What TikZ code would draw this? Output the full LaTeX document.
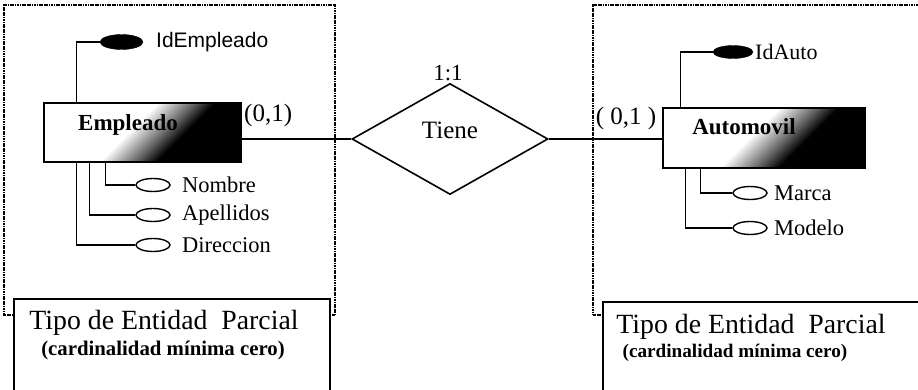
\documentclass[tikz,border=0pt]{standalone}
\usepackage{fontspec}
\setmainfont{Liberation Serif}
\setsansfont{Liberation Sans}
\usetikzlibrary{shapes.geometric}
\pgfdeclarehorizontalshading{entgrad}{100bp}{color(0bp)=(white); color(25bp)=(white); color(46bp)=(white); color(56bp)=(black!60); color(62bp)=(black); color(100bp)=(black)}
\begin{document}
\begin{tikzpicture}[x=1pt,y=-1pt,
  dotbox/.style={dash pattern=on 1.2pt off 0.5pt, line width=1.2pt, black},
  solidbox/.style={line width=1.8pt},
  conn/.style={line width=1.5pt},
  entity/.style={draw, line width=1.2pt, shading=entgrad, shading angle=-45, inner sep=0pt},
  keyattr/.style={ellipse, fill=black, draw, inner sep=0pt},
  attr/.style={ellipse, draw, line width=1.4pt, inner sep=0pt, minimum width=34pt, minimum height=13pt},
  rel/.style={diamond, draw, line width=1.6pt, inner sep=0pt, minimum width=196pt, minimum height=111pt},
  lbl/.style={inner sep=0pt, anchor=west},
  serlbl/.style={lbl, font=\fontsize{22.5}{22.5}\selectfont},
  sanlbl/.style={lbl, font=\sffamily\fontsize{21}{21}\selectfont},
  enttext/.style={inner sep=0pt, font=\bfseries\fontsize{23}{23}\selectfont},
  card/.style={inner sep=0pt, font=\fontsize{25}{25}\selectfont}]
\useasboundingbox (0,0) rectangle (918,389);
% frames
\draw[dotbox] (13,315) -- (4,315) -- (4,5) -- (335,5) -- (335,315) -- (330,315);
\draw[dotbox] (603,315) -- (593,315) -- (593,5) -- (918,5);
\draw[solidbox] (14,395) -- (14,299) -- (330,299) -- (330,395);
\draw[solidbox] (603,395) -- (603,302) -- (920,302);
% entities
\node[entity, minimum width=197pt, minimum height=59pt] (emp) at (142.5,132.5) {};
\node[enttext] (empt) at (128,125) {Empleado};
\node[entity, minimum width=202pt, minimum height=60pt] (aut) at (764,138) {};
\node[enttext] (autt) at (744,127) {Automovil};
% relationship
\node[rel] (rel) at (450,139) {};
\node[inner sep=0pt, font=\fontsize{25}{25}\selectfont] (relt) at (450,130) {Tiene};
\node[card, font=\fontsize{23}{23}\selectfont] (c11) at (448,73) {1:1};
\node[card, anchor=west] (c1) at (244,115) {(0,1)};
\node[card] (c2) at (626,118) {( 0,1 )};
\draw[conn] (emp.south east |- rel.west) -- (rel.west);
\draw[conn] (rel.east) -- (aut.west |- rel.east);
% employee attributes
\node[keyattr, minimum width=43pt, minimum height=15pt] (kemp) at (121.5,42) {};
\node[sanlbl] (lkemp) at (156,42) {IdEmpleado};
\draw[conn] (kemp.west) -| ([xshift=33pt]emp.north west);
\node[attr] (anom) at (153,185) {};
\node[serlbl] (lnom) at (182,185) {Nombre};
\draw[conn] (anom.west) -| ([xshift=62pt]emp.south west);
\node[attr] (aape) at (153,215) {};
\node[serlbl] (lape) at (182,215) {Apellidos};
\draw[conn] (aape.west) -| ([xshift=46pt]emp.south west);
\node[attr] (adir) at (153,245) {};
\node[serlbl] (ldir) at (182,245) {Direccion};
\draw[conn] (adir.west) -| ([xshift=33pt]emp.south west);
% auto attributes
\node[keyattr, minimum width=40pt, minimum height=13pt] (kaut) at (733,52) {};
\node[serlbl, font=\fontsize{22}{22}\selectfont] (lkaut) at (755,52) {IdAuto};
\draw[conn] (kaut.west) -| ([xshift=18pt]aut.north west);
\node[attr] (amar) at (750,193) {};
\node[serlbl] (lmar) at (774,193) {Marca};
\draw[conn] (amar.west) -| ([xshift=38pt]aut.south west);
\node[attr] (amod) at (750,228) {};
\node[serlbl] (lmod) at (774,228) {Modelo};
\draw[conn] (amod.west) -| ([xshift=23pt]aut.south west);
% captions
\node[inner sep=0pt, font=\fontsize{27.8}{27.8}\selectfont] (t1) at (164,323) {Tipo de Entidad\ \ Parcial};
\node[inner sep=0pt, font=\bfseries\fontsize{20.8}{20.8}\selectfont] (s1) at (163,350) {(cardinalidad mínima cero)};
\node[inner sep=0pt, font=\fontsize{27.8}{27.8}\selectfont] (t2) at (751,327) {Tipo de Entidad\ \ Parcial};
\node[inner sep=0pt, font=\bfseries\fontsize{19.2}{19.2}\selectfont] (s2) at (735,353) {(cardinalidad mínima cero)};
\end{tikzpicture}
\end{document}
